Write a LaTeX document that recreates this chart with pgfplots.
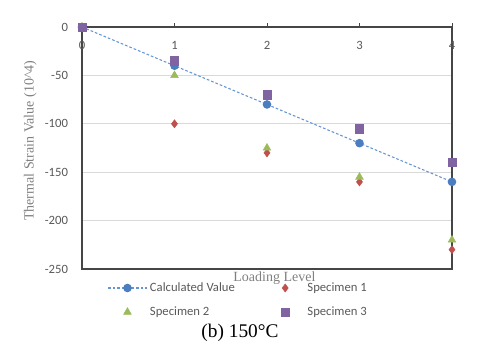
\documentclass[border=0pt]{standalone}
\usepackage{fontspec}
\setmainfont{Liberation Serif}
\newfontfamily\carlito{Carlito}
\usepackage{pgfplots}
\pgfplotsset{compat=1.18}
\definecolor{calc}{RGB}{74,126,193}
\definecolor{calcline}{RGB}{100,150,215}
\definecolor{sone}{RGB}{192,80,77}
\definecolor{stwo}{RGB}{155,187,89}
\definecolor{sthree}{RGB}{128,100,162}
\definecolor{txt}{RGB}{89,89,89}
\definecolor{axisgray}{RGB}{70,70,70}
\definecolor{gridgray}{RGB}{217,217,217}

\begin{document}
\begin{tikzpicture}
\useasboundingbox (-61.5pt,-61.5pt) rectangle (298.5pt,201.75pt);
\begin{axis}[
    scale only axis,
    width=277.5pt,
    height=181.5pt,
    xmin=0, xmax=4,
    ymin=-250, ymax=0,
    xtick={0,1,2,3,4},
    ytick={-250,-200,-150,-100,-50,0},
    xtick pos=right,
    xticklabel pos=right,
    tick align=outside,
    major tick length=3pt,
    ytick style={draw=none},
    xtick style={axisgray, line width=0.7pt},
    ymajorgrids,
    grid style={gridgray, line width=0.6pt},
    axis line style={axisgray, line width=0.9pt},
    /pgf/number format/assume math mode=true,
    ticklabel style={font=\carlito\fontsize{9.5}{11}\selectfont, text=txt},
    xticklabel style={anchor=north, yshift=-10.5pt},
    yticklabel style={xshift=-4pt},
    ylabel={Thermal Strain Value (10\textasciicircum 4)},
    ylabel style={at={(axis description cs:-0.14,0.53)}, anchor=center,
        font=\fontsize{10.5}{12}\selectfont, text=gray},
    xlabel={Loading Level},
    xlabel style={at={(axis description cs:0.52,0)}, anchor=center, yshift=-6.5pt,
        font=\fontsize{10.5}{12}\selectfont, text=gray},
    legend columns=2,
    legend image code/.code={\path (0pt,0pt) (29pt,0pt);
        \draw[mark repeat=2,mark phase=2,#1]
        plot coordinates {(0pt,0pt)(14.5pt,0pt)(29pt,0pt)};},
    legend style={draw=none, fill=none, at={(axis description cs:0,0)},
        anchor=north west, xshift=16pt, yshift=-6pt,
        font=\carlito\fontsize{9.5}{11}\selectfont, text=txt,
        row sep=6pt,
        /tikz/every even column/.append style={column sep=21pt}},
    legend cell align=left,
]
\addplot[calcline, line width=0.8pt, dash pattern=on 2pt off 1.5pt,
    mark=*, mark size=2.8pt, mark options={solid, fill=calc, draw=calc}]
    coordinates {(0,0) (1,-40) (2,-80) (3,-120) (4,-160)};
\addlegendentry{Calculated Value}
\addplot[only marks, mark=diamond*, mark size=3pt, mark options={fill=sone, draw=sone}]
    coordinates {(0,0) (1,-100) (2,-130) (3,-160) (4,-230)};
\addlegendentry{Specimen 1}
\addplot[only marks, mark=triangle*, mark size=3.3pt, mark options={fill=stwo, draw=stwo}]
    coordinates {(0,0) (1,-50) (2,-125) (3,-155) (4,-220)};
\addlegendentry{Specimen 2}
\addplot[only marks, mark=square*, mark size=3.1pt, mark options={fill=sthree, draw=sthree}]
    coordinates {(0,0) (1,-35) (2,-70) (3,-105) (4,-140)};
\addlegendentry{Specimen 3}
\end{axis}
\node[font=\fontsize{14.5}{17}\selectfont] at (118.5pt,-48pt) {(b) 150°C};
\end{tikzpicture}
\end{document}
